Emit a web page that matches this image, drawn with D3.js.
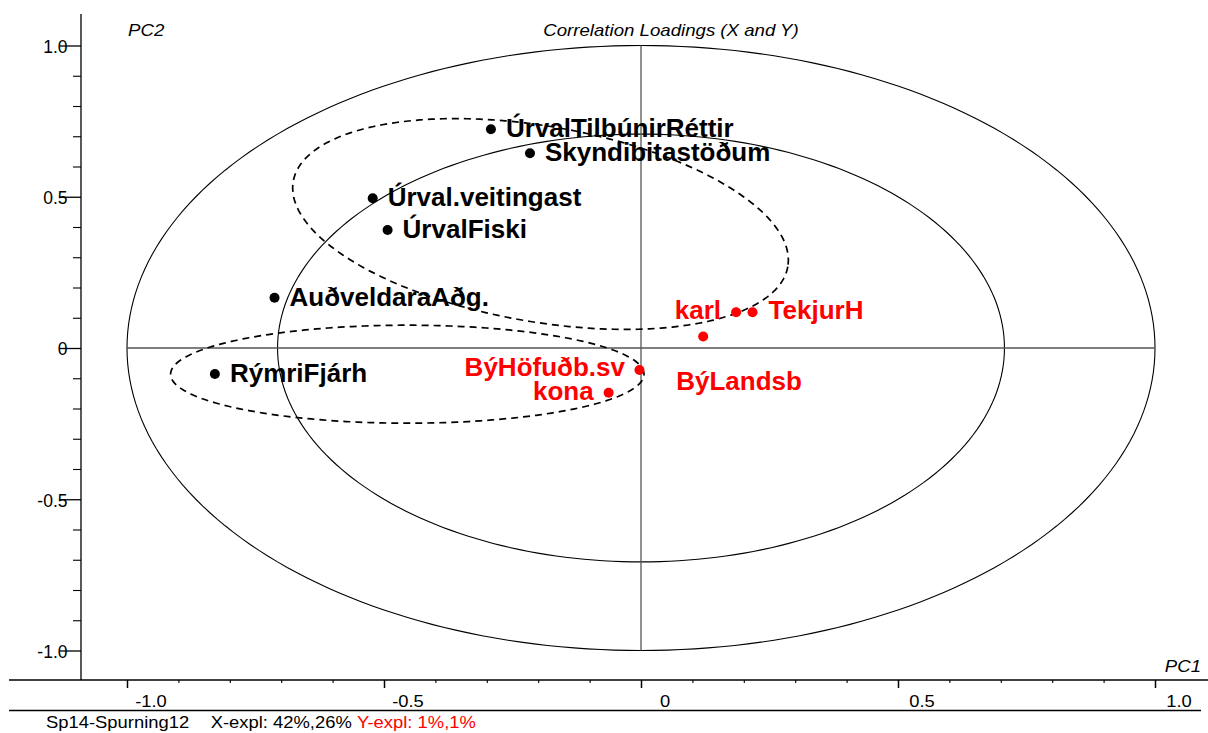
<!DOCTYPE html>
<html>
<head>
<meta charset="utf-8">
<script src="https://cdn.jsdelivr.net/npm/d3@7"></script>
<style>
  html, body { margin: 0; padding: 0; background: #fff; }
  svg { display: block; }
</style>
</head>
<body>
<svg id="chart" width="1208" height="733"></svg>
<script>
// ---------------- DATA ----------------
const xVarNames = ["ÚrvalTilbúnirRéttir", "Skyndibitastöðum", "Úrval.veitingast", "ÚrvalFiski", "AuðveldaraAðg.", "RýmriFjárh"];
const xVarPC1   = [-0.292, -0.216, -0.522, -0.493, -0.713, -0.829];
const xVarPC2   = [ 0.723,  0.644,  0.495,  0.390,  0.166, -0.086];

const yVarNames = ["karl", "TekjurH", "BýLandsb", "BýHöfuðb.sv", "kona"];
const yVarPC1   = [0.185, 0.217, 0.121, -0.003, -0.063];
const yVarPC2   = [0.118, 0.118, 0.038, -0.073, -0.148];

// correlation circles (radius 100% and 50% explained variance)
const circleRadii = [1, Math.SQRT1_2];

// group ellipses (data units): centre and two conjugate semi-diameters
const groupCenter = [[-0.1955, 0.4099], [-0.4547, -0.0866]];
const groupAxis1  = [[ 0.4811, -0.1408], [0.4605, 0.0]];
const groupAxis2  = [[-0.0323, -0.3187], [0.0, 0.162]];

const majorTicks = [-1, -0.5, 0, 0.5, 1];
const tickLabels = ["-1.0", "-0.5", "0", "0.5", "1.0"];
const minorTicks = [-0.9, -0.8, -0.7, -0.6, -0.4, -0.3, -0.2, -0.1, 0.1, 0.2, 0.3, 0.4, 0.6, 0.7, 0.8, 0.9];

const titleText = "Correlation Loadings (X and Y)";
const xAxisTitle = "PC1";
const yAxisTitle = "PC2";
const footerParts = ["Sp14-Spurning12", "X-expl: 42%,26% ", "Y-expl: 1%,1%"];

// ---------------- LAYOUT ----------------
const FONT = "'Liberation Sans', Arial, Helvetica, sans-serif";
const RED = "#ff0000";
// label placement (px offsets from point)
const labelPlace = {
  "karl":        {anchor: "end",   dx: -15, dy: 7},
  "TekjurH":     {anchor: "start", dx: 16,  dy: 7},
  "BýLandsb":    {anchor: "start", dx: -27, dy: 53.5},
  "BýHöfuðb.sv": {anchor: "end",   dx: -14.5, dy: 5.5},
  "kona":        {anchor: "end",   dx: -15, dy: 7.5}
};
const defaultPlace = {anchor: "start", dx: 15, dy: 8};

const svg = d3.select("#chart");
svg.append("rect").attr("width", 1208).attr("height", 733).attr("fill", "#fff");

const x = d3.scaleLinear().domain([-1, 1]).range([127, 1155]);
const y = d3.scaleLinear().domain([-1, 1]).range([650.5, 45.5]);

const axisX = 81, axisY = 680;

function txt(g, px, py, s, o) {
  return g.append("text")
    .attr("transform", `translate(${px},${py}) scale(${o.sx || 1},1)`)
    .attr("text-anchor", o.anchor || "start")
    .attr("font-family", FONT)
    .attr("font-size", o.size + "px")
    .attr("font-weight", o.weight || "normal")
    .attr("font-style", o.style || "normal")
    .attr("fill", o.fill || "#000")
    .text(s);
}

// ---------- ellipse helper through scales ----------
function ellipsePts(c, a1, a2, n = 240) {
  return d3.range(n).map(i => {
    const t = 2 * Math.PI * i / n;
    return [x(c[0] + a1[0] * Math.cos(t) + a2[0] * Math.sin(t)),
            y(c[1] + a1[1] * Math.cos(t) + a2[1] * Math.sin(t))];
  });
}
const closedLine = d3.line().curve(d3.curveLinearClosed);

// correlation circles
svg.append("g").selectAll("path").data(circleRadii).join("path")
  .attr("d", r => closedLine(ellipsePts([0, 0], [r, 0], [0, r])))
  .attr("fill", "none").attr("stroke", "#000").attr("stroke-width", 1.1);

// cross-hair
svg.append("line").attr("x1", x(0)).attr("x2", x(0)).attr("y1", y(1)).attr("y2", y(-1))
  .attr("stroke", "#555").attr("stroke-width", 1.3);
svg.append("line").attr("x1", x(-1)).attr("x2", x(1)).attr("y1", y(0)).attr("y2", y(0))
  .attr("stroke", "#555").attr("stroke-width", 1.3);

// group ellipses (dashed)
svg.append("g").selectAll("path").data(groupCenter).join("path")
  .attr("d", (c, i) => closedLine(ellipsePts(c, groupAxis1[i], groupAxis2[i])))
  .attr("fill", "none").attr("stroke", "#000").attr("stroke-width", 1.7)
  .attr("stroke-dasharray", "7,5");

// ---------- axes ----------
const ga = svg.append("g");
// y axis line
ga.append("line").attr("x1", axisX).attr("x2", axisX).attr("y1", 14).attr("y2", axisY)
  .attr("stroke", "#000").attr("stroke-width", 1.3);
// x axis lines
ga.append("line").attr("x1", 9).attr("x2", 1208).attr("y1", axisY).attr("y2", axisY)
  .attr("stroke", "#000").attr("stroke-width", 1.3);
ga.append("line").attr("x1", 9).attr("x2", 1201).attr("y1", 710.5).attr("y2", 710.5)
  .attr("stroke", "#000").attr("stroke-width", 1.3);

// y ticks
const yMinor = d3.axisLeft(y).tickValues(minorTicks).tickSize(8).tickSizeOuter(0).tickFormat("");
const yMajor = d3.axisLeft(y).tickValues(majorTicks).tickSize(21).tickSizeOuter(0).tickFormat("");
ga.append("g").attr("transform", `translate(${axisX},0)`).call(yMinor)
  .call(g => g.select(".domain").remove())
  .call(g => g.selectAll("line").attr("stroke", "#000").attr("stroke-width", 1.1));
ga.append("g").attr("transform", `translate(${axisX},0)`).call(yMajor)
  .call(g => g.select(".domain").remove())
  .call(g => g.selectAll("line").attr("stroke", "#000").attr("stroke-width", 1.3));
majorTicks.forEach((v, i) => {
  txt(ga, 67.5, y(v) + 7.3, tickLabels[i], {size: 17.5, anchor: "end"});
});

// x ticks
const xMinor = d3.axisBottom(x).tickValues(minorTicks).tickSize(3).tickSizeOuter(0).tickFormat("");
const xMajor = d3.axisBottom(x).tickValues(majorTicks).tickSize(8).tickSizeOuter(0).tickFormat("");
ga.append("g").attr("transform", `translate(0,${axisY})`).call(xMinor)
  .call(g => g.select(".domain").remove())
  .call(g => g.selectAll("line").attr("stroke", "#000").attr("stroke-width", 1.1));
ga.append("g").attr("transform", `translate(0,${axisY})`).call(xMajor)
  .call(g => g.select(".domain").remove())
  .call(g => g.selectAll("line").attr("stroke", "#000").attr("stroke-width", 1.5));
majorTicks.forEach((v, i) => {
  txt(ga, x(v) + 24, 707, tickLabels[i], {size: 17, anchor: "middle", sx: 1.08});
});

// titles
txt(svg, 671, 36, titleText, {size: 16.5, style: "italic", anchor: "middle", sx: 1.13});
txt(svg, 128, 36, yAxisTitle, {size: 16.5, style: "italic", anchor: "start", sx: 1.13});
txt(svg, 1201, 672, xAxisTitle, {size: 16.5, style: "italic", anchor: "end", sx: 1.13});

// footer
const ft = svg.append("text")
  .attr("transform", "translate(46,728) scale(1.15,1)")
  .attr("font-family", FONT).attr("font-size", "16px")
  .attr("xml:space", "preserve").style("white-space", "pre");
ft.append("tspan").attr("fill", "#000").text(footerParts[0]);
ft.append("tspan").attr("x", (210.7 - 46) / 1.15).attr("fill", "#000").text(footerParts[1]);
ft.append("tspan").attr("fill", RED).text(footerParts[2]);

// ---------- points and labels ----------
const xPts = xVarNames.map((n, i) => ({name: n, pc1: xVarPC1[i], pc2: xVarPC2[i], color: "#000"}));
const yPts = yVarNames.map((n, i) => ({name: n, pc1: yVarPC1[i], pc2: yVarPC2[i], color: RED}));
const allPts = xPts.concat(yPts);

const gp = svg.append("g");
gp.selectAll("circle").data(allPts).join("circle")
  .attr("cx", d => x(d.pc1)).attr("cy", d => y(d.pc2)).attr("r", 5)
  .attr("fill", d => d.color);

allPts.forEach(d => {
  const p = labelPlace[d.name] || defaultPlace;
  txt(gp, x(d.pc1) + p.dx, y(d.pc2) + p.dy, d.name,
      {size: 26, weight: "bold", anchor: p.anchor, fill: d.color});
});
</script>
</body>
</html>
